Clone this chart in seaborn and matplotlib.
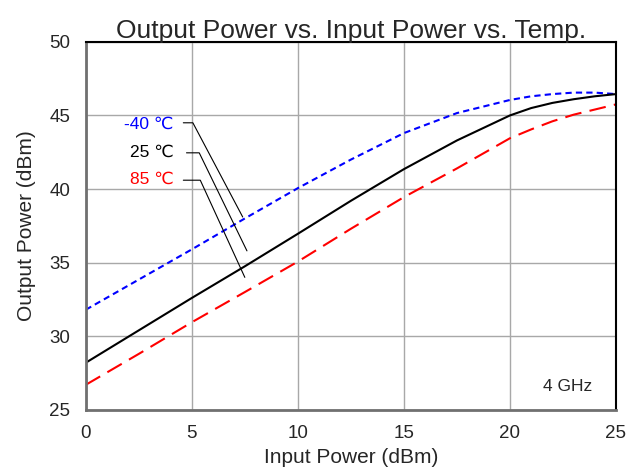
import numpy as np
import pandas as pd
import seaborn as sns
import matplotlib.pyplot as plt

# Data
pin = [0, 2.5, 5, 7.5, 10, 12.5, 15, 17.5, 20, 21, 22, 23, 24, 25]
pout_m40 = [31.8, 33.85, 35.9, 38.0, 40.06, 42.0, 43.8, 45.16, 46.05, 46.3, 46.45, 46.55, 46.55, 46.45]
pout_25 = [28.2, 30.4, 32.6, 34.75, 36.96, 39.2, 41.35, 43.3, 45.0, 45.5, 45.85, 46.1, 46.3, 46.45]
pout_85 = [26.7, 28.8, 30.95, 33.0, 35.07, 37.3, 39.45, 41.4, 43.45, 44.05, 44.6, 45.05, 45.4, 45.75]

temps = ['-40 \u2103', '25 \u2103', '85 \u2103']
colors = ['blue', 'black', 'red']

# label positions (x, y) and leader polylines
label_pos = [(4.15, 44.4), (4.15, 42.5), (4.15, 40.65)]
leaders = [
    [(4.6, 44.5), (5.05, 44.5), (7.4, 38.1)],
    [(4.75, 42.46), (5.35, 42.46), (7.6, 35.8)],
    [(4.6, 40.6), (5.4, 40.6), (7.5, 34.0)],
]

df = pd.DataFrame({
    'Input Power (dBm)': pin * 3,
    'Output Power (dBm)': pout_m40 + pout_25 + pout_85,
    'Temp': [t for t in temps for _ in pin],
})

sns.set_style('white')
plt.rcParams['font.family'] = ['Liberation Sans', 'DejaVu Sans']

fig, ax = plt.subplots(figsize=(6.26, 4.70), dpi=100)
fig.subplots_adjust(left=0.137, right=0.984, top=0.911, bottom=0.128)

sns.lineplot(data=df, x='Input Power (dBm)', y='Output Power (dBm)', hue='Temp',
             style='Temp', palette=colors, dashes=[(3, 2), '', (8, 4)],
             linewidth=1.5, legend=False, ax=ax)

for (lx, ly), t, c in zip(label_pos, temps, colors):
    ax.text(lx, ly, t, color=c, fontsize=12.5, ha='right', va='center')
for pts in leaders:
    xs, ys = zip(*pts)
    ax.plot(xs, ys, color='black', lw=0.8)

ax.text(22.7, 26.6, '4 GHz', fontsize=12.5, ha='center', va='center')

ax.set_xlim(0, 25)
ax.set_ylim(25, 50)
ax.set_xticks(range(0, 26, 5))
ax.set_yticks(range(25, 51, 5))
ax.grid(True, color='#a8a8a8', lw=1)
for side in ['top', 'right']:
    ax.spines[side].set_color('black')
    ax.spines[side].set_linewidth(1.5)
for side in ['left', 'bottom']:
    ax.spines[side].set_color('#707070')
    ax.spines[side].set_linewidth(2)
ax.tick_params(labelsize=13.5, length=0, pad=11)
ax.set_xlabel('Input Power (dBm)', fontsize=15, labelpad=4)
ax.set_ylabel('Output Power (dBm)', fontsize=15, labelpad=10)
ax.set_title('Output Power vs. Input Power vs. Temp.', fontsize=19, pad=3)

fig.savefig('out.png', dpi=100)
